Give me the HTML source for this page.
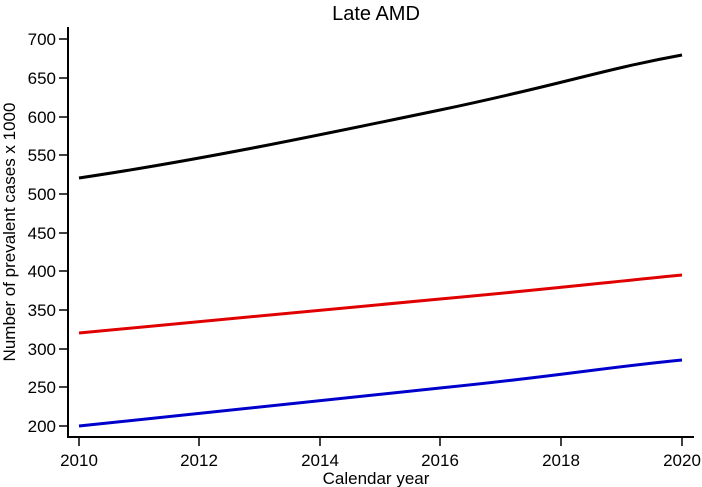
<!DOCTYPE html>
<html><head><meta charset="utf-8"><style>body{margin:0;background:#fff}svg{display:block}text{font-family:"Liberation Sans",Arial,sans-serif;fill:#000}</style></head><body>
<svg width="702" height="487" viewBox="0 0 702 487">
<text x="376" y="20" font-size="20" text-anchor="middle">Late AMD</text>
<g stroke="#000" stroke-width="2" fill="none">
<line x1="68" y1="27" x2="68" y2="438"/>
<line x1="67" y1="437" x2="694" y2="437"/>
<g stroke-width="1.5">
<line x1="59" y1="39" x2="68" y2="39"/><line x1="59" y1="78" x2="68" y2="78"/><line x1="59" y1="117" x2="68" y2="117"/><line x1="59" y1="155" x2="68" y2="155"/><line x1="59" y1="194" x2="68" y2="194"/><line x1="59" y1="233" x2="68" y2="233"/><line x1="59" y1="271" x2="68" y2="271"/><line x1="59" y1="310" x2="68" y2="310"/><line x1="59" y1="349" x2="68" y2="349"/><line x1="59" y1="387" x2="68" y2="387"/><line x1="59" y1="426" x2="68" y2="426"/>
<line x1="79" y1="437" x2="79" y2="446"/><line x1="199" y1="437" x2="199" y2="446"/><line x1="320" y1="437" x2="320" y2="446"/><line x1="440" y1="437" x2="440" y2="446"/><line x1="561" y1="437" x2="561" y2="446"/><line x1="682" y1="437" x2="682" y2="446"/>
</g></g>
<g font-size="17" text-anchor="end">
<text x="56" y="45">700</text><text x="56" y="84">650</text><text x="56" y="123">600</text><text x="56" y="161">550</text><text x="56" y="200">500</text><text x="56" y="239">450</text><text x="56" y="277">400</text><text x="56" y="316">350</text><text x="56" y="355">300</text><text x="56" y="393">250</text><text x="56" y="432">200</text>
</g>
<g font-size="17" text-anchor="middle">
<text x="79" y="466">2010</text><text x="199" y="466">2012</text><text x="320" y="466">2014</text><text x="440" y="466">2016</text><text x="561" y="466">2018</text><text x="682" y="466">2020</text>
</g>
<text x="376" y="484" font-size="17" text-anchor="middle">Calendar year</text>
<text transform="translate(15,232) rotate(-90)" font-size="17" text-anchor="middle">Number of prevalent cases x 1000</text>
<g fill="none" stroke-width="3">
<path d="M79,178 C200,160 320,135 440,110 S600,70 682,55" stroke="#000"/>
<path d="M79,333 C200,322 320,310 440,299 S600,283 682,275" stroke="#e00000"/>
<path d="M79,426 C200,413 320,400 440,388 S600,368 682,360" stroke="#0000cc"/>
</g>
</svg>
</body></html>
